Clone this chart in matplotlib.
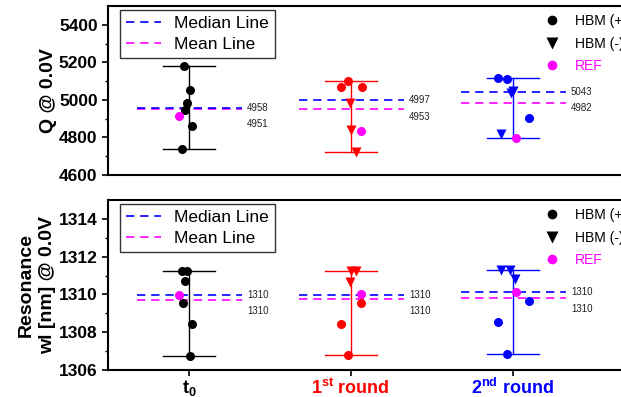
import numpy as np
import matplotlib
matplotlib.use('Agg')
import matplotlib.pyplot as plt
from matplotlib.lines import Line2D

plt.rcParams['font.family'] = ['Liberation Sans', 'DejaVu Sans']
plt.rcParams['mathtext.fontset'] = 'custom'
plt.rcParams['mathtext.rm'] = 'Liberation Sans:bold'
plt.rcParams['mathtext.bf'] = 'Liberation Sans:bold'
plt.rcParams['mathtext.default'] = 'bf'

# groups
group_labels = [r'$\mathbf{t_0}$', r'1$^{\mathbf{st}}$ round', r'2$^{\mathbf{nd}}$ round']
group_colors = ['black', 'red', 'blue']

# Q @ 0.0V
q_pos = [[5180, 5055, 4983, 4944, 4860, 4740], [5103, 5066, 5066], [5119, 5110, 4902]]
q_neg = [[], [4985, 4838, 4723], [5050, 5035, 4821]]
q_ref = [4914, 4833, 4798]
q_median = [4958, 4997, 5043]
q_mean = [4951, 4953, 4982]

# resonance wl @ 0.0V
w_pos = [[1311.23, 1311.26, 1310.70, 1309.57, 1308.42, 1306.74], [1309.57, 1308.44, 1306.78], [1309.67, 1308.53, 1306.86]]
w_neg = [[], [1311.25, 1311.25, 1310.68], [1311.30, 1311.30, 1310.80]]
w_ref = [1309.99, 1310.05, 1310.13]
w_median = [1309.99, 1309.99, 1310.11]
w_mean = [1309.71, 1309.74, 1309.83]

# small x offsets of the scattered points
q_pos_dx = [[-0.033, 0.006, -0.010, -0.025, 0.017, -0.043], [-0.02, -0.06, 0.068], [-0.088, -0.037, 0.099]]
q_neg_dx = [[], [-0.006, 0.004, 0.035], [0.0, -0.012, -0.074]]
q_ref_dx = [-0.062, 0.062, 0.023]
w_pos_dx = [[-0.045, -0.01, -0.023, -0.035, 0.017, 0.004], [0.066, -0.062, -0.02], [0.099, -0.088, -0.037]]
w_neg_dx = [[], [0.004, 0.035, -0.006], [-0.072, -0.016, 0.017]]
w_ref_dx = [-0.062, 0.062, 0.023]

W, H = 621, 397
fig = plt.figure(figsize=(W/100, H/100), dpi=100)
left, right = 108/W, 626/W
ax1 = fig.add_axes([left, 1-175/H, right-left, (175-6)/H])
ax2 = fig.add_axes([left, 1-370/H, right-left, (370-200)/H])


def draw_panel(ax, pos, neg, ref, med, mean, pos_dx, neg_dx, ref_dx):
    for i in range(3):
        xc = i+1
        c = group_colors[i]
        allv = pos[i]+neg[i]+[ref[i]]
        lo, hi = min(allv), max(allv)
        ax.plot([xc, xc], [lo, hi], color=c, lw=1.0, zorder=2)
        ax.plot([xc-0.16, xc+0.16], [lo, lo], color=c, lw=1.0, zorder=2)
        ax.plot([xc-0.16, xc+0.16], [hi, hi], color=c, lw=1.0, zorder=2)
        ax.plot([xc-0.32, xc+0.33], [mean[i], mean[i]], color='#ff00ff', lw=1.2, ls=(0, (5, 3.5)), zorder=3)
        ax.plot([xc-0.32, xc+0.33], [med[i], med[i]], color='#0000ff', lw=1.2, ls=(0, (5, 3.5)), zorder=3)
        ax.plot(xc+np.array(pos_dx[i]), pos[i], 'o', color=c, ms=6.5, mec='none', zorder=4)
        if neg[i]:
            ax.plot(xc+np.array(neg_dx[i]), neg[i], 'v', color=c, ms=7.5, mec='none', zorder=4)
        ax.plot(xc+ref_dx[i], ref[i], 'o', color='#ff00ff', ms=6.5, mec='none', zorder=5)
        ax.annotate('%.0f' % med[i], (xc+0.36, med[i]), fontsize=7, color='#222222', va='center', ha='left')
        ax.annotate('%.0f' % mean[i], (xc+0.36, med[i]), xytext=(0, -12), textcoords='offset points',
                    fontsize=7, color='#222222', va='center', ha='left')
    ax.set_xlim(0.5, 3.7)
    for s in ax.spines.values():
        s.set_linewidth(1.5)
    ax.tick_params(axis='y', which='major', direction='out', length=4, width=1.2, labelsize=12.5)
    ax.tick_params(axis='y', which='minor', direction='out', length=2.5, width=1.0)
    for t in ax.get_yticklabels():
        t.set_fontweight('bold')

    h1 = [Line2D([], [], color='#0000ff', lw=1.2, ls=(0, (5, 3.5))),
          Line2D([], [], color='#ff00ff', lw=1.2, ls=(0, (5, 3.5)))]
    leg1 = ax.legend(h1, ['Median Line', 'Mean Line'], loc='upper left', bbox_to_anchor=(0.023, 0.975),
                     fontsize=12.5, frameon=True, fancybox=False, edgecolor='black', handlelength=2.0,
                     borderpad=0.35, labelspacing=0.3, handletextpad=0.75, borderaxespad=0)
    leg1.get_frame().set_linewidth(1.0)
    ax.add_artist(leg1)
    h2 = [Line2D([], [], marker='o', color='black', ls='none', ms=7, mec='none'),
          Line2D([], [], marker='v', color='black', ls='none', ms=8, mec='none'),
          Line2D([], [], marker='o', color='#ff00ff', ls='none', ms=7, mec='none')]
    leg2 = ax.legend(h2, ['HBM (+)', 'HBM (-)', 'REF'], loc='upper left', bbox_to_anchor=(0.815, 1.0),
                     fontsize=10, frameon=False, handletextpad=0.6, labelspacing=0.6, borderaxespad=0.2)
    leg2.get_texts()[2].set_color('#ff00ff')


draw_panel(ax1, q_pos, q_neg, q_ref, q_median, q_mean, q_pos_dx, q_neg_dx, q_ref_dx)
draw_panel(ax2, w_pos, w_neg, w_ref, w_median, w_mean, w_pos_dx, w_neg_dx, w_ref_dx)

ax1.set_ylim(4600, 5500)
ax1.set_yticks([4600, 4800, 5000, 5200, 5400])
ax1.set_yticks(np.arange(4700, 5500, 200), minor=True)
ax1.set_xticks([])
ax1.set_ylabel('Q @ 0.0V', fontsize=14, fontweight='bold', labelpad=1.5)

ax2.set_ylim(1306, 1315)
ax2.set_yticks([1306, 1308, 1310, 1312, 1314])
ax2.set_yticks([1307, 1309, 1311, 1313], minor=True)
ax2.set_xticks([1, 2, 3])
ax2.set_xticklabels(group_labels, fontsize=13, fontweight='bold')
for t, c in zip(ax2.get_xticklabels(), group_colors):
    t.set_color(c)
ax2.tick_params(axis='x', direction='out', length=4, width=1.2, pad=2)
for t in ax2.get_yticklabels():
    t.set_fontweight('bold')
ax2.set_ylabel('Resonance\nwl [nm] @ 0.0V', fontsize=14, fontweight='bold', labelpad=2, linespacing=1.3)

fig.savefig('out.png', dpi=100)
